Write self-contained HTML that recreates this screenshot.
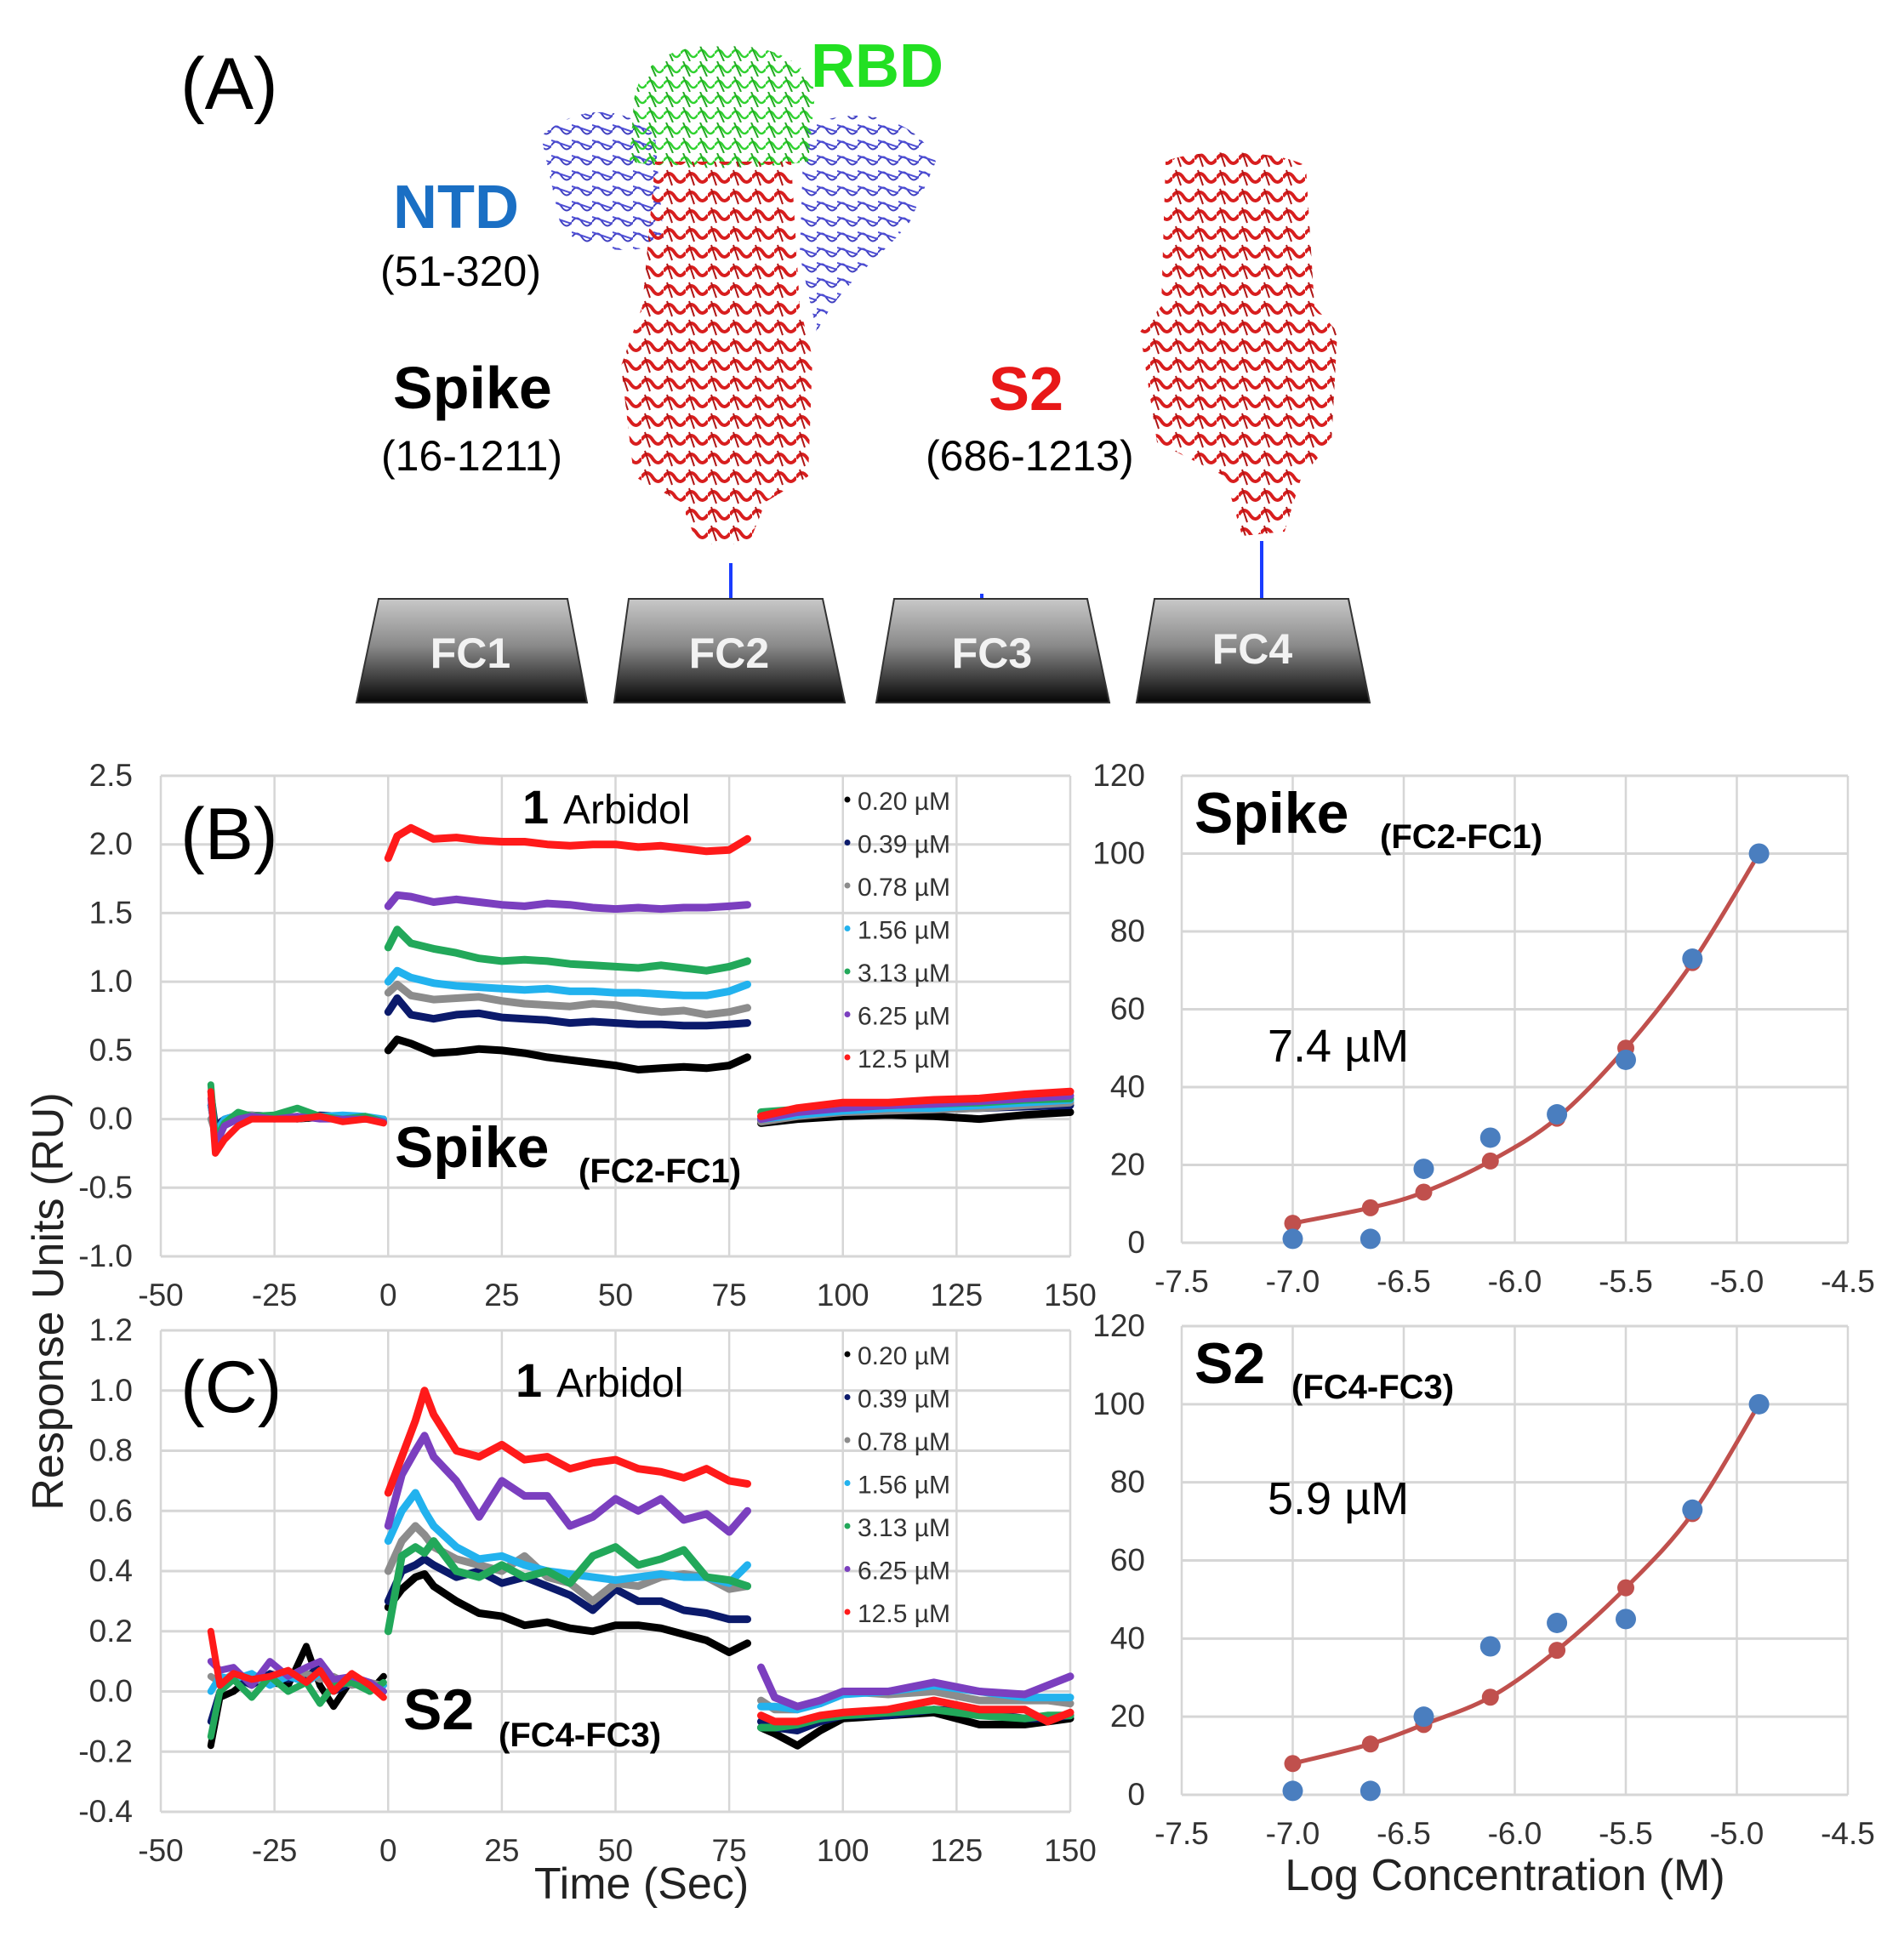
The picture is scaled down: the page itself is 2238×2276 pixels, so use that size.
<!DOCTYPE html>
<html><head><meta charset="utf-8"><style>
html,body{margin:0;padding:0;background:#fff;}
svg{display:block;font-family:"Liberation Sans",Arial,sans-serif;}
</style></head><body>
<svg id="fig" width="2238" height="2276" viewBox="0 0 2238 2276" xmlns="http://www.w3.org/2000/svg">
<defs>
<pattern id="redHelix" width="26" height="22" patternUnits="userSpaceOnUse">
<path d="M0 11 q6.5 -10 13 0 t13 0" fill="none" stroke="#d81e1e" stroke-width="4"/>
<path d="M4 2 l6 18" stroke="#b01515" stroke-width="2"/>
</pattern>
<pattern id="greenSheet" width="20" height="18" patternUnits="userSpaceOnUse">
<path d="M0 9 q5 -8 10 0 t10 0" fill="none" stroke="#2fd22f" stroke-width="2.5"/>
<path d="M3 0 l8 18" stroke="#23a823" stroke-width="2"/>
</pattern>
<pattern id="blueSheet" width="24" height="18" patternUnits="userSpaceOnUse">
<path d="M0 9 q6 -9 12 0 t12 0" fill="none" stroke="#2a2ab8" stroke-width="2"/>
<path d="M0 3 l24 8" stroke="#3a3ad0" stroke-width="2"/>
</pattern>
<linearGradient id="fcGrad" x1="0" y1="0" x2="0" y2="1">
<stop offset="0" stop-color="#c8c8c8"/><stop offset="0.45" stop-color="#8a8a8a"/><stop offset="1" stop-color="#050505"/>
</linearGradient>
</defs>

<g id="panelA">
<text x="212" y="128" font-size="86">(A)</text>
<g>
<path d="M636 160 C680 120 740 125 770 160 L780 280 C760 300 700 300 660 270 Z" fill="url(#blueSheet)" opacity="0.9"/>
<path d="M945 150 C1010 120 1080 140 1100 190 L1070 260 C1040 300 990 330 960 390 L940 300 Z" fill="url(#blueSheet)" opacity="0.9"/>
<path d="M745 120 C750 70 800 50 850 55 C900 50 950 70 958 110 L950 190 C880 200 800 200 740 190 Z" fill="url(#greenSheet)"/>
<path d="M770 190 L930 190 L940 360 L955 420 L950 560 L900 590 L880 640 L820 640 L800 590 L745 560 L730 430 L755 360 Z" fill="url(#redHelix)"/>
<line x1="859" y1="662" x2="859" y2="707" stroke="#1a3cff" stroke-width="4"/>
</g>
<g>
<path d="M1370 190 C1400 175 1500 175 1535 195 L1545 360 L1572 390 L1565 520 L1530 560 L1510 625 L1460 630 L1440 560 L1360 520 L1340 390 L1365 360 Z" fill="url(#redHelix)"/>
<line x1="1483" y1="636" x2="1483" y2="705" stroke="#1a3cff" stroke-width="4"/>
<line x1="1154" y1="698" x2="1154" y2="705" stroke="#1a3cff" stroke-width="4"/>
</g>
<text x="953" y="102" font-size="72" font-weight="bold" fill="#22e022">RBD</text>
<text x="462" y="268" font-size="72" font-weight="bold" fill="#1a6fc4">NTD</text>
<text x="447" y="336" font-size="50">(51-320)</text>
<text x="462" y="480" font-size="70" font-weight="bold">Spike</text>
<text x="448" y="553" font-size="50">(16-1211)</text>
<text x="1162" y="482" font-size="72" font-weight="bold" fill="#e81818">S2</text>
<text x="1088" y="553" font-size="50">(686-1213)</text>
<g>
<polygon points="445,704 667,704 690,826 419,826" fill="url(#fcGrad)" stroke="#333" stroke-width="2"/>
<polygon points="739,704 967,704 993,826 722,826" fill="url(#fcGrad)" stroke="#333" stroke-width="2"/>
<polygon points="1051,704 1278,704 1304,826 1030,826" fill="url(#fcGrad)" stroke="#333" stroke-width="2"/>
<polygon points="1357,704 1585,704 1610,826 1336,826" fill="url(#fcGrad)" stroke="#333" stroke-width="2"/>
<text x="553" y="785" font-size="50" font-weight="bold" fill="#f2f2f2" text-anchor="middle">FC1</text>
<text x="857" y="785" font-size="50" font-weight="bold" fill="#f2f2f2" text-anchor="middle">FC2</text>
<text x="1166" y="785" font-size="50" font-weight="bold" fill="#f2f2f2" text-anchor="middle">FC3</text>
<text x="1472" y="780" font-size="50" font-weight="bold" fill="#f2f2f2" text-anchor="middle">FC4</text>
</g>
</g>
<g id="charts"></g>
</svg>
<script>
// ---------- Sensorgram data (time in s, response in RU) ----------
const seriesColors = ["#000000","#0b1a6b","#8c8c8c","#22b2ee","#22a85a","#7b3fbf","#ff1a1a"];
const legendLabels = ["0.20 µM","0.39 µM","0.78 µM","1.56 µM","3.13 µM","6.25 µM","12.5 µM"];
const timeTicks = [-50,-25,0,25,50,75,100,125,150];
const bYTicks = [-1.0,-0.5,0.0,0.5,1.0,1.5,2.0,2.5];
const cYTicks = [-0.4,-0.2,0.0,0.2,0.4,0.6,0.8,1.0,1.2];

const bBaseTimes = [-39,-38,-36,-33,-30,-25,-20,-15,-10,-5,-1];
const bBase0 = [0.1,-0.1,-0.05,0.03,0.02,0.02,0.0,0.01,0.0,0.0,0.0];
const bBase1 = [0.2,-0.05,0.0,0.03,0.03,0.02,0.01,0.03,0.02,0.0,-0.02];
const bBase2 = [0.0,-0.1,-0.02,0.02,0.03,0.01,0.02,0.01,0.02,0.0,0.0];
const bBase3 = [0.1,-0.1,0.0,0.03,0.02,0.02,0.0,0.02,0.03,0.02,0.0];
const bBase4 = [0.25,-0.15,-0.03,0.05,0.02,0.03,0.08,0.02,0.0,0.02,-0.02];
const bBase5 = [0.15,-0.2,-0.05,0.0,0.02,0.0,0.02,0.0,0.0,0.0,-0.02];
const bBase6 = [0.2,-0.25,-0.15,-0.05,0.0,0.0,0.0,0.02,-0.02,0.0,-0.03];

const bAssocTimes = [0,2,5,10,15,20,25,30,35,40,45,50,55,60,65,70,75,79];
const bAssoc0 = [0.5,0.58,0.55,0.48,0.49,0.51,0.5,0.48,0.45,0.43,0.41,0.39,0.36,0.37,0.38,0.37,0.39,0.45];
const bAssoc1 = [0.78,0.88,0.76,0.73,0.76,0.77,0.74,0.73,0.72,0.7,0.71,0.7,0.69,0.69,0.68,0.68,0.69,0.7];
const bAssoc2 = [0.92,0.98,0.9,0.87,0.88,0.89,0.86,0.84,0.83,0.82,0.84,0.83,0.8,0.78,0.79,0.76,0.78,0.81];
const bAssoc3 = [1.0,1.08,1.03,0.99,0.97,0.96,0.95,0.94,0.95,0.93,0.93,0.92,0.92,0.91,0.9,0.9,0.93,0.98];
const bAssoc4 = [1.25,1.38,1.28,1.24,1.21,1.17,1.15,1.16,1.15,1.13,1.12,1.11,1.1,1.12,1.1,1.08,1.11,1.15];
const bAssoc5 = [1.55,1.63,1.62,1.58,1.6,1.58,1.56,1.55,1.57,1.56,1.54,1.53,1.54,1.53,1.54,1.54,1.55,1.56];
const bAssoc6 = [1.9,2.06,2.12,2.04,2.05,2.03,2.02,2.02,2.0,1.99,2.0,2.0,1.98,1.99,1.97,1.95,1.96,2.04];

const bDissTimes = [82,90,100,110,120,130,140,150];
const bDiss0 = [-0.03,0.0,0.02,0.03,0.02,0.0,0.03,0.05];
const bDiss1 = [-0.01,0.03,0.05,0.06,0.07,0.08,0.09,0.1];
const bDiss2 = [-0.02,0.02,0.05,0.06,0.07,0.08,0.1,0.12];
const bDiss3 = [0.0,0.03,0.06,0.08,0.08,0.1,0.12,0.14];
const bDiss4 = [0.05,0.07,0.09,0.1,0.11,0.12,0.14,0.15];
const bDiss5 = [0.0,0.05,0.08,0.1,0.11,0.13,0.15,0.17];
const bDiss6 = [0.02,0.08,0.12,0.12,0.14,0.15,0.18,0.2];

const cBaseTimes = [-39,-37,-34,-30,-26,-22,-18,-15,-12,-8,-4,-1];
const cBase0 = [-0.18,-0.02,0.0,0.05,0.03,0.02,0.15,0.02,-0.05,0.04,0.0,0.05];
const cBase1 = [-0.1,0.0,0.05,0.02,0.06,0.04,0.05,0.08,0.0,0.03,0.02,0.0];
const cBase2 = [0.05,0.03,0.06,0.04,0.03,0.05,0.06,0.04,0.05,0.02,0.03,0.02];
const cBase3 = [0.0,0.05,0.04,0.06,0.02,0.05,0.03,0.06,0.02,0.04,0.01,0.02];
const cBase4 = [-0.15,0.0,0.04,-0.02,0.05,0.0,0.03,-0.04,0.02,0.03,0.0,0.03];
const cBase5 = [0.1,0.07,0.08,0.02,0.1,0.05,0.08,0.1,0.04,0.05,0.03,0.0];
const cBase6 = [0.2,0.02,0.06,0.04,0.05,0.07,0.03,0.07,0.0,0.06,0.02,-0.02];

const cAssocTimes = [0,3,6,8,10,15,20,25,30,35,40,45,50,55,60,65,70,75,79];
const cAssoc0 = [0.28,0.34,0.38,0.39,0.35,0.3,0.26,0.25,0.22,0.23,0.21,0.2,0.22,0.22,0.21,0.19,0.17,0.13,0.16];
const cAssoc1 = [0.3,0.4,0.42,0.44,0.42,0.38,0.4,0.36,0.38,0.35,0.32,0.27,0.34,0.3,0.3,0.27,0.26,0.24,0.24];
const cAssoc2 = [0.4,0.5,0.55,0.52,0.48,0.44,0.42,0.4,0.45,0.38,0.36,0.3,0.36,0.35,0.38,0.39,0.38,0.34,0.35];
const cAssoc3 = [0.5,0.6,0.66,0.6,0.55,0.48,0.44,0.45,0.42,0.4,0.39,0.38,0.37,0.38,0.39,0.38,0.38,0.36,0.42];
const cAssoc4 = [0.2,0.45,0.48,0.46,0.5,0.4,0.38,0.42,0.38,0.4,0.36,0.45,0.48,0.42,0.44,0.47,0.38,0.37,0.35];
const cAssoc5 = [0.55,0.72,0.8,0.85,0.78,0.7,0.58,0.7,0.65,0.65,0.55,0.58,0.64,0.6,0.64,0.57,0.59,0.53,0.6];
const cAssoc6 = [0.66,0.78,0.9,1.0,0.92,0.8,0.78,0.82,0.77,0.78,0.74,0.76,0.77,0.74,0.73,0.71,0.74,0.7,0.69];

const cDissTimes = [82,85,90,95,100,110,120,130,140,145,150];
const cDiss0 = [-0.12,-0.14,-0.18,-0.13,-0.09,-0.08,-0.07,-0.11,-0.11,-0.1,-0.09];
const cDiss1 = [-0.1,-0.12,-0.13,-0.1,-0.08,-0.08,-0.06,-0.07,-0.09,-0.09,-0.08];
const cDiss2 = [-0.03,-0.06,-0.06,-0.03,0.0,-0.01,0.0,-0.03,-0.03,-0.03,-0.04];
const cDiss3 = [-0.05,-0.05,-0.06,-0.04,-0.01,0.0,0.02,0.0,-0.02,-0.02,-0.02];
const cDiss4 = [-0.12,-0.12,-0.11,-0.09,-0.08,-0.07,-0.06,-0.08,-0.09,-0.08,-0.08];
const cDiss5 = [0.08,-0.02,-0.05,-0.03,0.0,0.0,0.03,0.0,-0.01,0.02,0.05];
const cDiss6 = [-0.08,-0.1,-0.1,-0.08,-0.07,-0.06,-0.03,-0.06,-0.06,-0.1,-0.07];

// ---------- Dose-response data ----------
const logTicks = [-7.5,-7.0,-6.5,-6.0,-5.5,-5.0,-4.5];
const pctTicks = [0,20,40,60,80,100,120];
const logConc = [-7.0,-6.65,-6.41,-6.11,-5.81,-5.5,-5.2,-4.9];
const spikeMeasured = [1,1,19,27,33,47,73,100];
const spikeFit = [5,9,13,21,32,50,72,100];
const s2Measured = [1,1,20,38,44,45,73,100];
const s2Fit = [8,13,18,25,37,53,72,100];

const NS="http://www.w3.org/2000/svg";
const root=document.getElementById('charts');
function mk(tag,attrs,parent){const e=document.createElementNS(NS,tag);for(const k in attrs)e.setAttribute(k,attrs[k]);(parent||root).appendChild(e);return e;}
function scale(d0,d1,r0,r1){return v=>r0+(v-d0)/(d1-d0)*(r1-r0);}

function grid(g,xs,ys,xT,yT,x0,x1,y0,y1){
  xT.forEach(t=>{const l=mk('line',{x1:xs(t),x2:xs(t),y1:y0,y2:y1,stroke:'#d6d6d6','stroke-width':2.5},g);
    
    });
  yT.forEach(t=>{const l=mk('line',{x1:x0,x2:x1,y1:ys(t),y2:ys(t),stroke:'#d6d6d6','stroke-width':3},g);
    
    });
}
function tickLabels(g,xs,ys,xT,yT,xLabY,yLabX,fmtX,fmtY){
  xT.forEach(t=>{const e=mk('text',{x:xs(t),y:xLabY,'font-size':37,fill:'#333','text-anchor':'middle'},g);e.textContent=fmtX(t);
    
    });
  yT.forEach(t=>{const e=mk('text',{x:yLabX,y:ys(t)+12,'font-size':37,fill:'#333','text-anchor':'end'},g);e.textContent=fmtY(t);
    
    });
}
function line(g,xs,ys,tt,vv,color,w,name){
  const d=tt.map((t,i)=>(i?'L':'M')+xs(t).toFixed(1)+' '+ys(vv[i]).toFixed(1)).join(' ');
  const p=mk('path',{d:d,fill:'none',stroke:color,'stroke-width':w,'stroke-linejoin':'round','stroke-linecap':'round'},g);
  
  
}

function sensorgram(id,top,bottom,yT,base,assoc,diss){
  const g=mk('g',{id:id});
  
  
  const x0=189,x1=1258;
  const xs=scale(-50,150,x0,x1), ys=scale(yT[0],yT[yT.length-1],bottom,top);
  grid(g,xs,ys,timeTicks,yT,x0,x1,top,bottom);
  tickLabels(g,xs,ys,timeTicks,yT,bottom+58,156,t=>String(t),t=>t.toFixed(1));
  for(let s=0;s<7;s++){
    line(g,xs,ys,base.t,base.v[s],seriesColors[s],8,'baseline-trace-'+s);
    line(g,xs,ys,assoc.t,assoc.v[s],seriesColors[s],9,'association-trace-'+s);
    line(g,xs,ys,diss.t,diss.v[s],seriesColors[s],9,'dissociation-trace-'+s);
  }
  const lg=mk('g',{},g);
  
  
  const ly0=top+30;
  legendLabels.forEach((l,i)=>{
    const y=ly0+i*50.5;
    const c=mk('circle',{cx:996,cy:y-2,r:3.5,fill:seriesColors[i]},lg);
    
    
    const t=mk('text',{x:1008,y:y+10,'font-size':30,fill:'#333'},lg);t.textContent=l;
    
    
  });
  return g;
}
function addText(g,x,y,size,txt,weight,name,fill){
  const t=mk('text',{x:x,y:y,'font-size':size,'font-weight':weight||'normal',fill:fill||'#000'},g);t.textContent=txt;
  
  return t;
}

const gB=sensorgram('panel-b-chart',912,1477,bYTicks,
  {t:bBaseTimes,v:[bBase0,bBase1,bBase2,bBase3,bBase4,bBase5,bBase6]},
  {t:bAssocTimes,v:[bAssoc0,bAssoc1,bAssoc2,bAssoc3,bAssoc4,bAssoc5,bAssoc6]},
  {t:bDissTimes,v:[bDiss0,bDiss1,bDiss2,bDiss3,bDiss4,bDiss5,bDiss6]});
addText(gB,212,1010,86,'(B)','normal','panel-b-label');
addText(gB,614,968,56,'1','bold','compound-number');
addText(gB,662,968,48,'Arbidol','normal','compound-name');
addText(gB,464,1372,68,'Spike','bold','spike-title');
addText(gB,680,1390,40,'(FC2-FC1)','bold','spike-subscript');

const gC=sensorgram('panel-c-chart',1564,2130,cYTicks,
  {t:cBaseTimes,v:[cBase0,cBase1,cBase2,cBase3,cBase4,cBase5,cBase6]},
  {t:cAssocTimes,v:[cAssoc0,cAssoc1,cAssoc2,cAssoc3,cAssoc4,cAssoc5,cAssoc6]},
  {t:cDissTimes,v:[cDiss0,cDiss1,cDiss2,cDiss3,cDiss4,cDiss5,cDiss6]});
addText(gC,212,1660,86,'(C)','normal','panel-c-label');
addText(gC,606,1642,56,'1','bold','compound-number');
addText(gC,654,1642,48,'Arbidol','normal','compound-name');
addText(gC,474,2033,68,'S2','bold','s2-title');
addText(gC,586,2053,40,'(FC4-FC3)','bold','s2-subscript');

function doseChart(id,top,bottom,meas,fit,title,sub,subX,ec,ecY){
  const g=mk('g',{id:id});
  
  
  const x0=1389,x1=2172;
  const xs=scale(-7.5,-4.5,x0,x1), ys=scale(0,120,bottom,top);
  grid(g,xs,ys,logTicks,pctTicks,x0,x1,top,bottom);
  tickLabels(g,xs,ys,logTicks,pctTicks,bottom+58,1346,t=>t.toFixed(1),t=>String(t));
  const pts=logConc.map((c,i)=>[xs(c),ys(fit[i])]);
  let d='M'+pts[0][0]+' '+pts[0][1];
  for(let i=0;i<pts.length-1;i++){
    const p0=pts[Math.max(0,i-1)],p1=pts[i],p2=pts[i+1],p3=pts[Math.min(pts.length-1,i+2)];
    d+=' C'+(p1[0]+(p2[0]-p0[0])/6)+' '+(p1[1]+(p2[1]-p0[1])/6)+' '+(p2[0]-(p3[0]-p1[0])/6)+' '+(p2[1]-(p3[1]-p1[1])/6)+' '+p2[0]+' '+p2[1];
  }
  const fc=mk('path',{d:d,fill:'none',stroke:'#c0504d','stroke-width':5},g);
  
  
  logConc.forEach((c,i)=>{
    const r=mk('circle',{cx:xs(c),cy:ys(fit[i]),r:10,fill:'#c0504d'},g);
    
    
  });
  logConc.forEach((c,i)=>{
    const b=mk('circle',{cx:xs(c),cy:ys(meas[i]),r:12,fill:'#4a7ebf'},g);
    
    
  });
  addText(g,1404,top+67,68,title,'bold','dose-title');
  addText(g,subX,top+85,40,sub,'bold','dose-subscript');
  addText(g,1490,ecY,54,ec,'normal','kd-value');
  return g;
}
doseChart('panel-d-chart',912,1461,spikeMeasured,spikeFit,'Spike','(FC2-FC1)',1622,'7.4 µM',1248);
doseChart('panel-e-chart',1559,2110,s2Measured,s2Fit,'S2','(FC4-FC3)',1518,'5.9 µM',1780);

const yt=mk('text',{x:0,y:0,'font-size':52,fill:'#222','text-anchor':'middle',transform:'translate(74,1530) rotate(-90)'});
yt.textContent='Response Units (RU)';


const xt=mk('text',{x:754,y:2232,'font-size':52,fill:'#222','text-anchor':'middle'});
xt.textContent='Time (Sec)';


const xt2=mk('text',{x:1769,y:2222,'font-size':52,fill:'#222','text-anchor':'middle'});
xt2.textContent='Log Concentration (M)';


</script>
</body></html>
